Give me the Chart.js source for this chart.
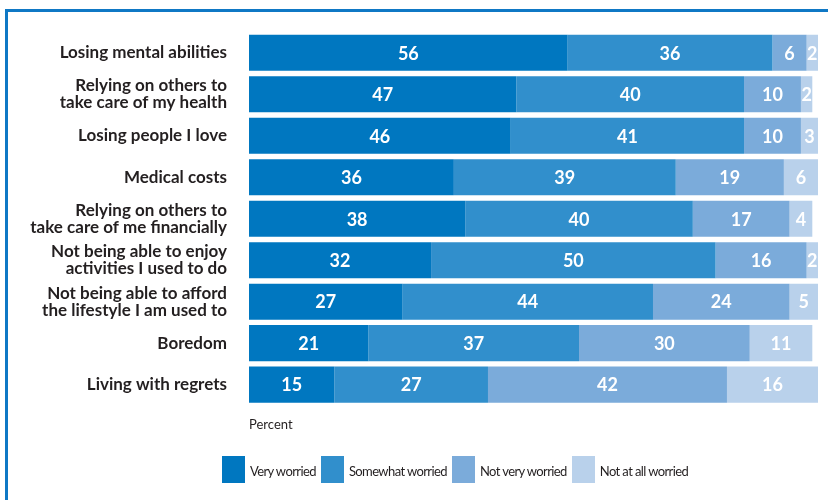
<!DOCTYPE html>
<html>
<head>
<meta charset="utf-8">
<script src="https://cdn.jsdelivr.net/npm/chart.js@4/dist/chart.umd.min.js"></script>
<style>
  body { margin: 0; background: #fff; }
  #wrap { position: relative; width: 828px; height: 500px; }
  #frame { position: absolute; left: 5px; top: 9px; right: 0; bottom: 0;
           border-top: 3px solid #0f78c5; border-left: 3px solid #0f78c5; }
  #legend { position: absolute; left: 222px; top: 456px; display: flex; align-items: center;
            font: 13px Lato, sans-serif; letter-spacing: -0.6px; color: #231f20; }
  #legend .item { display: flex; align-items: center; margin-right: 5px; }
  #legend .box { width: 23px; height: 27px; margin-right: 5px; }
  #legend span { padding-top: 3px; }
</style>
</head>
<body>
<div id="wrap">
  <div id="frame"></div>
  <canvas id="chart" width="828" height="500"></canvas>
  <div id="legend"></div>
</div>
<script>
var categories = [
    'Losing mental abilities',
    ['Relying on others to', 'take care of my health'],
    'Losing people I love',
    'Medical costs',
    ['Relying on others to', 'take care of me financially'],
    ['Not being able to enjoy', 'activities I used to do'],
    ['Not being able to afford', 'the lifestyle I am used to'],
    'Boredom',
    'Living with regrets'
];
var veryWorried     = [56, 47, 46, 36, 38, 32, 27, 21, 15];
var somewhatWorried = [36, 40, 41, 39, 40, 50, 44, 37, 27];
var notVeryWorried  = [6, 10, 10, 19, 17, 16, 24, 30, 42];
var notAtAllWorried = [2, 2, 3, 6, 4, 2, 5, 11, 16];
var seriesNames = ['Very worried', 'Somewhat worried', 'Not very worried', 'Not at all worried'];
var colors = ['#0077c0', '#318fcc', '#7babda', '#b9d1eb'];

var fontFamily = 'Lato, sans-serif';

// white numbers in the middle of each segment
var valueLabels = {
    id: 'valueLabels',
    afterDatasetsDraw: function(chart) {
        var ctx = chart.ctx;
        ctx.save();
        ctx.fillStyle = '#ffffff';
        ctx.font = 'bold 18px ' + fontFamily;
        ctx.textAlign = 'center';
        ctx.textBaseline = 'middle';
        chart.data.datasets.forEach(function(ds, i) {
            chart.getDatasetMeta(i).data.forEach(function(bar, j) {
                ctx.fillText(ds.data[j], (bar.x + bar.base) / 2, bar.y + 1);
            });
        });
        ctx.restore();
    }
};

var allSeries = [veryWorried, somewhatWorried, notVeryWorried, notAtAllWorried];
var datasets = allSeries.map(function(d, i) {
    return {
        label: seriesNames[i],
        data: d,
        backgroundColor: colors[i],
        borderWidth: 0,
        barPercentage: 1,
        categoryPercentage: 0.87
    };
});

var ctx = document.getElementById('chart').getContext('2d');
var myChart = new Chart(ctx, {
    type: 'bar',
    data: { labels: categories, datasets: datasets },
    options: {
        indexAxis: 'y',
        responsive: false,
        animation: false,
        layout: { padding: { top: 32, right: 10, bottom: 67, left: 20 } },
        scales: {
            x: {
                stacked: true,
                min: 0,
                max: 100,
                ticks: { display: false },
                grid: { display: false },
                border: { display: false },
                title: {
                    display: true,
                    text: 'Percent',
                    align: 'start',
                    color: '#231f20',
                    font: { family: fontFamily, size: 13 },
                    padding: { top: 4, bottom: 0 }
                }
            },
            y: {
                stacked: true,
                grid: { display: false },
                border: { display: false },
                afterFit: function(scale) { scale.width = 229; },
                ticks: {
                    color: '#231f20',
                    padding: 14,
                    font: { family: fontFamily, size: 17, weight: 'bold', lineHeight: 1.0 }
                }
            }
        },
        plugins: {
            legend: { display: false },
            tooltip: { enabled: false }
        }
    },
    plugins: [valueLabels]
});

var legend = document.getElementById('legend');
seriesNames.forEach(function(name, i) {
    var item = document.createElement('div');
    item.className = 'item';
    var box = document.createElement('div');
    box.className = 'box';
    box.style.background = colors[i];
    var txt = document.createElement('span');
    txt.textContent = name;
    item.appendChild(box);
    item.appendChild(txt);
    legend.appendChild(item);
});
</script>
</body>
</html>
